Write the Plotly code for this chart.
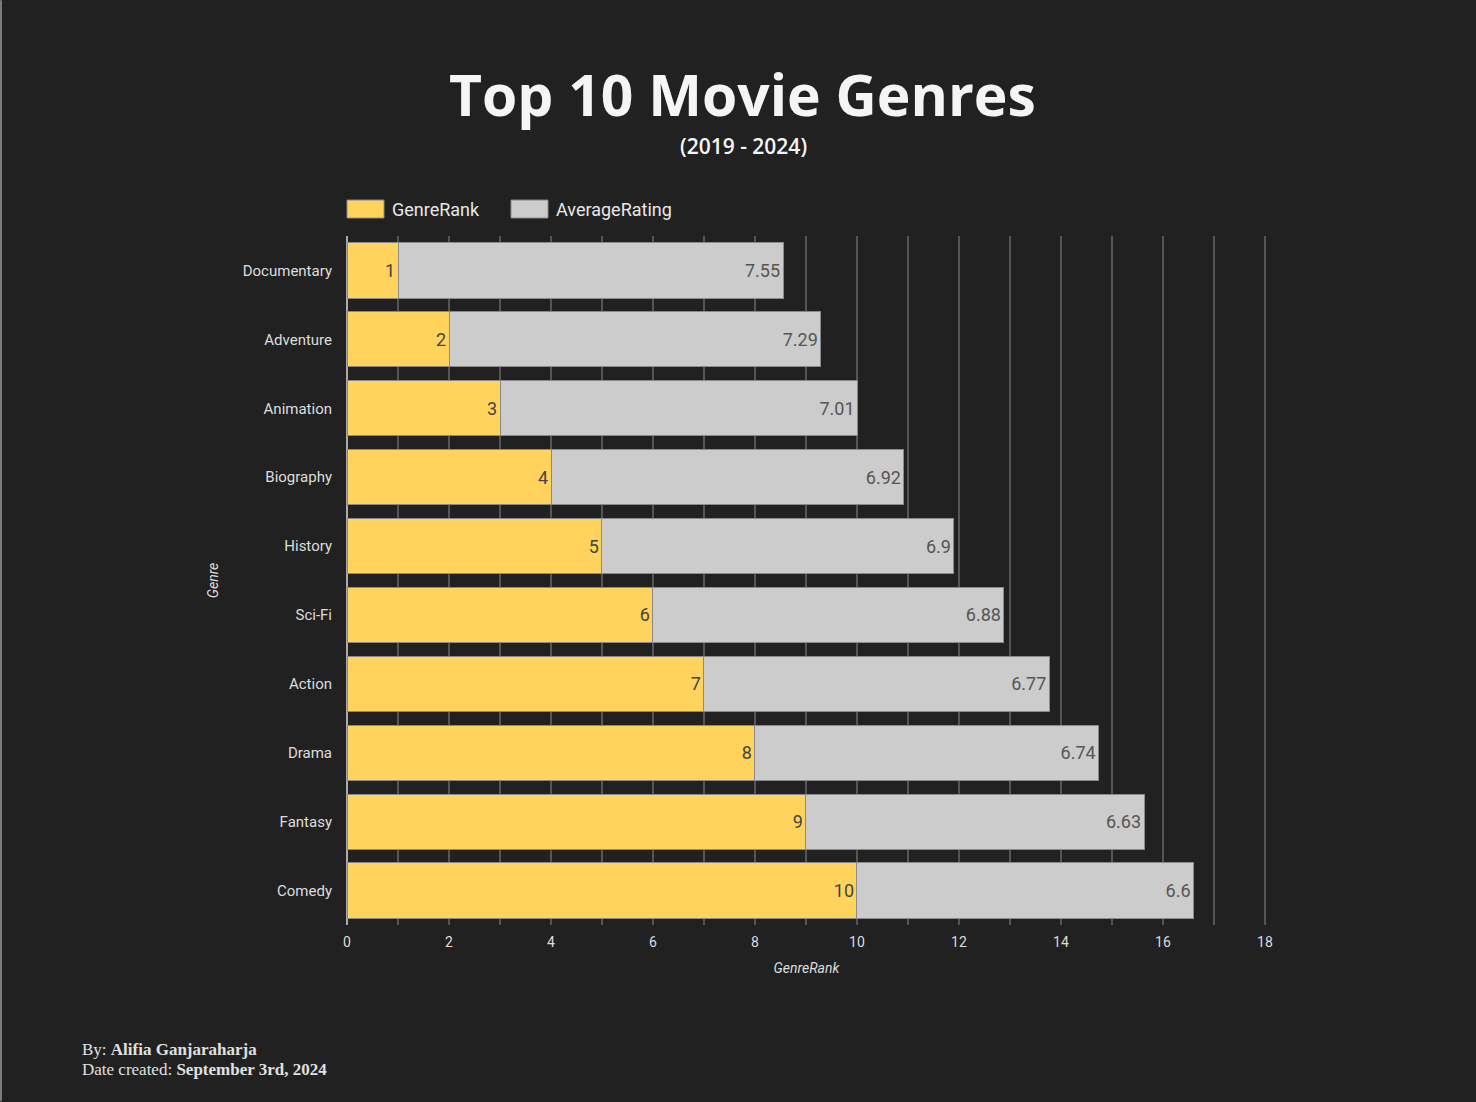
import plotly.graph_objects as go

genres = ["Documentary", "Adventure", "Animation", "Biography", "History",
          "Sci-Fi", "Action", "Drama", "Fantasy", "Comedy"]
genre_rank = [1, 2, 3, 4, 5, 6, 7, 8, 9, 10]
avg_rating = [7.55, 7.29, 7.01, 6.92, 6.9, 6.88, 6.77, 6.74, 6.63, 6.6]
x_ticks = [0, 2, 4, 6, 8, 10, 12, 14, 16, 18]

BG = "#212121"
YELLOW = "#FFD35C"
GRAY = "#CCCCCC"
FONT = "Roboto"

W, H = 1476, 1102
L, R, T, B = 347, 1266, 236, 925.5

fig = go.Figure()
fig.add_trace(go.Bar(
    y=genres, x=genre_rank, orientation="h", name="GenreRank",
    marker=dict(color=YELLOW, line=dict(color="#8a8a8a", width=1)),
    text=[str(v) for v in genre_rank], textposition="inside",
    insidetextanchor="end", textangle=0,
    textfont=dict(family=FONT, size=18, color="#444444"),
    showlegend=False,
))
fig.add_trace(go.Bar(
    y=genres, x=avg_rating, orientation="h", name="AverageRating",
    marker=dict(color=GRAY, line=dict(color="#8a8a8a", width=1)),
    text=[f"{v:g}" for v in avg_rating], textposition="inside",
    insidetextanchor="end", textangle=0,
    textfont=dict(family=FONT, size=18, color="#555555"),
    showlegend=False,
))

def px_x(px):
    return (px - L) / (R - L)

def px_y(py):
    return (B - py) / (B - T)

shapes = []
annotations = []

# legend (custom, to match large swatches)
legend_items = [("GenreRank", YELLOW, 347), ("AverageRating", GRAY, 511)]
for name, col, x0 in legend_items:
    shapes.append(dict(type="rect", xref="paper", yref="paper",
                       x0=px_x(x0), x1=px_x(x0 + 37), y0=px_y(218), y1=px_y(200),
                       fillcolor=col, line=dict(color="#8a8a8a", width=1)))
    annotations.append(dict(xref="paper", yref="paper", x=px_x(x0 + 43), y=px_y(209),
                            xanchor="left", yanchor="middle", showarrow=False,
                            text=name, font=dict(family=FONT, size=18, color="#E8E8E8")))

# left border line
shapes.append(dict(type="line", xref="paper", yref="paper",
                   x0=px_x(1), x1=px_x(1), y0=px_y(0), y1=px_y(H),
                   line=dict(color="#9a9a9a", width=1.5)))

# title and subtitle
annotations.append(dict(xref="paper", yref="paper", x=px_x(742), y=px_y(94),
                        xanchor="center", yanchor="middle", showarrow=False,
                        text="<b>Top 10 Movie Genres</b>",
                        font=dict(family="Open Sans", size=57, color="#F5F5F5")))
annotations.append(dict(xref="paper", yref="paper", x=px_x(743), y=px_y(146),
                        xanchor="center", yanchor="middle", showarrow=False,
                        text="(2019 - 2024)",
                        font=dict(family="Open Sans", size=21, color="#F5F5F5", weight=600)))

# footer
annotations.append(dict(xref="paper", yref="paper", x=px_x(80), y=px_y(1050),
                        xanchor="left", yanchor="middle", showarrow=False,
                        text="By: <b>Alifia Ganjaraharja</b>",
                        font=dict(family="Liberation Serif", size=17, color="#E0E0E0")))
annotations.append(dict(xref="paper", yref="paper", x=px_x(80), y=px_y(1070),
                        xanchor="left", yanchor="middle", showarrow=False,
                        text="Date created: <b>September 3rd, 2024</b>",
                        font=dict(family="Liberation Serif", size=17, color="#E0E0E0")))

fig.update_layout(
    width=W, height=H,
    barmode="stack", bargap=0.2,
    paper_bgcolor=BG, plot_bgcolor=BG,
    margin=dict(l=L, r=W - R, t=T, b=H - B, pad=0),
    font=dict(family=FONT, color="#DDDDDD"),
    shapes=shapes, annotations=annotations,
    showlegend=False,
    xaxis=dict(
        range=[0, 18.02], tickvals=x_ticks, ticktext=[str(v) for v in x_ticks],
        showgrid=True, gridcolor="#555555", gridwidth=2,
        minor=dict(dtick=1, tick0=0, showgrid=True, gridcolor="#555555", gridwidth=2),
        zeroline=True, zerolinecolor="#AAAAAA", zerolinewidth=2,
        showline=False, ticks="", ticklabelstandoff=7,
        tickfont=dict(family=FONT, size=14, color="#DDDDDD"),
        title=dict(text="<i>GenreRank</i>", standoff=14,
                   font=dict(family=FONT, size=14, color="#DDDDDD")),
    ),
    yaxis=dict(
        categoryorder="array", categoryarray=genres, autorange="reversed",
        showgrid=False, ticks="", ticklabelstandoff=14,
        tickfont=dict(family=FONT, size=15, color="#DDDDDD"),
        title=dict(text="<i>Genre</i>", standoff=20,
                   font=dict(family=FONT, size=14, color="#DDDDDD")),
    ),
)

fig.write_html("out.html")
